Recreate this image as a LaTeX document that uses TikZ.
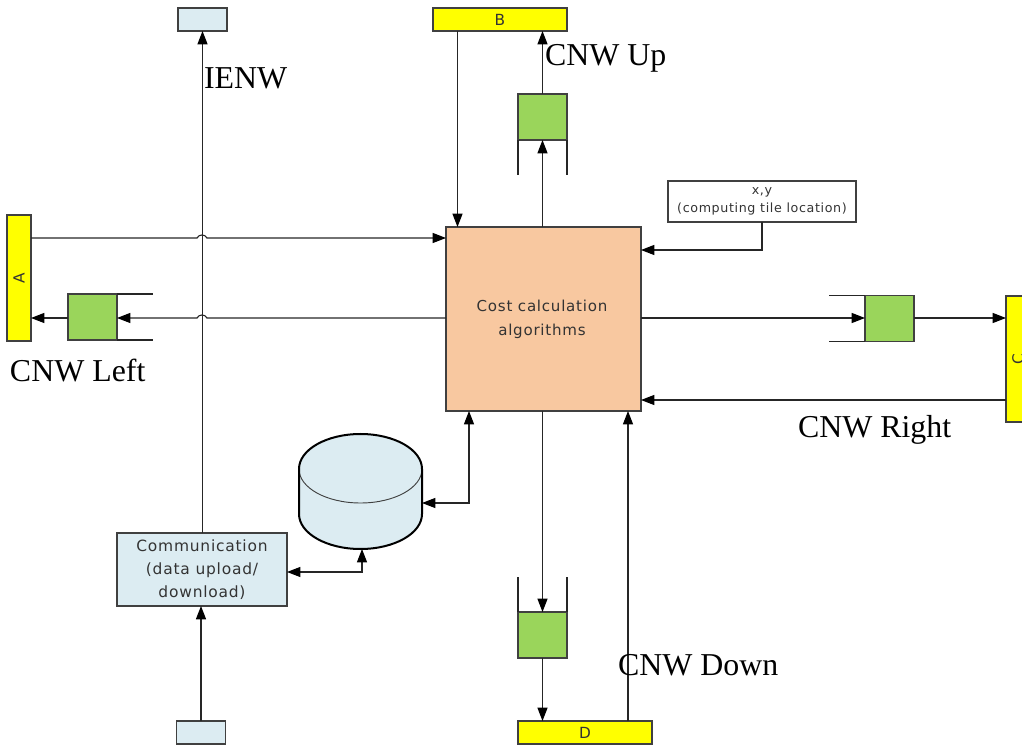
\documentclass[tikz,border=0pt]{standalone}
\usepackage{fontspec}
\setmainfont{Liberation Serif}
\newfontfamily\diagsans[LetterSpace=5]{DejaVu Sans}
\usetikzlibrary{arrows.meta}
\definecolor{edgegrey}{HTML}{404040}
\definecolor{portyellow}{HTML}{FFFF00}
\definecolor{bufgreen}{HTML}{9AD55B}
\definecolor{paleblue}{HTML}{DCECF2}
\definecolor{coreorange}{HTML}{F8C8A0}
\tikzset{
  box/.style={draw=edgegrey,line width=1pt,inner sep=0pt,outer sep=0pt,font=\diagsans\fontsize{11}{13}\selectfont,align=center,text=black!80},
  port/.style={box,fill=portyellow,font=\diagsans\fontsize{11.5}{13}\selectfont},
  buffer/.style={box,fill=bufgreen,minimum width=36.75pt,minimum height=34.5pt},
  pale/.style={box,fill=paleblue},
  wire/.style={draw=black!85,line width=0.85pt},
  arrowwire/.style={wire,-{Triangle[length=10pt,width=7.5pt,color=black]}},
  twowire/.style={wire,{Triangle[length=10pt,width=7.5pt,color=black]}-{Triangle[length=10pt,width=7.5pt,color=black]}},
  rail/.style={draw=black!85,line width=0.8pt},
  caption/.style={inner sep=0pt,outer sep=0pt,anchor=base west,font=\fontsize{23.9}{28}\selectfont,text=black}
}
\begin{document}
\begin{tikzpicture}[x=0.75pt,y=-0.75pt]
\useasboundingbox (0,0) rectangle (1022,745);
\clip (0,0) rectangle (1022,745);
% nodes
\node[box,fill=coreorange,minimum width=146.25pt,minimum height=138pt] (cost) at (543.5,319) {};
\node[box,draw=none,font=\diagsans\fontsize{11.3}{18}\selectfont] (costtext) at (542,319) {Cost calculation\\algorithms};
\node[port,rotate=90,minimum width=94.5pt,minimum height=18pt] (A) at (19,278) {A};
\node[port,minimum width=100.5pt,minimum height=17.25pt] (B) at (500,19.5) {B};
\node[port,rotate=90,minimum width=94.5pt,minimum height=18pt] (C) at (1018,359) {C};
\node[port,minimum width=100.5pt,minimum height=17.25pt] (D) at (585,732.5) {D};
\node[pale,minimum width=36.75pt,minimum height=17.25pt] (ietop) at (202.5,19.5) {};
\node[pale,minimum width=36.75pt,minimum height=17.25pt] (iebot) at (201,732.5) {};
\node[pale,minimum width=127.5pt,minimum height=54.75pt,font=\diagsans\fontsize{11.6}{17}\selectfont] (comm) at (202,569.5) {Communication\\(data upload/\\download)};
\node[box,fill=white,minimum width=141pt,minimum height=30.75pt,font=\diagsans\fontsize{9.5}{13.5}\selectfont] (xy) at (762,201.5) {x,y\\(computing tile location)};
\node[buffer] (gleft) at (92.5,317) {};
\node[buffer] (gup) at (542.5,117) {};
\node[buffer] (gright) at (889.5,318.5) {};
\node[buffer] (gdown) at (542.5,635) {};
% open buffer rails
\draw[rail] (gleft.north east) -- ++(36,0);
\draw[rail] (gleft.south east) -- ++(36,0);
\draw[rail] (gup.south west) -- ++(0,35);
\draw[rail] (gup.south east) -- ++(0,35);
\draw[rail] (gright.north west) -- ++(-36,0);
\draw[rail] (gright.south west) -- ++(-36,0);
\draw[rail] (gdown.north west) -- ++(0,-35);
\draw[rail] (gdown.north east) -- ++(0,-35);
% storage
\node[inner sep=0pt,outer sep=0pt,minimum width=92.25pt,minimum height=86.25pt] (db) at (360.5,491.5) {};
\fill[paleblue] (299,469) arc[start angle=180,end angle=360,x radius=61.5,y radius=35] -- (422,514) arc[start angle=0,end angle=180,x radius=61.5,y radius=35] -- cycle;
\draw[edgegrey,line width=0.7pt] (299,469) arc[start angle=180,end angle=0,x radius=61.5,y radius=34];
\draw[black,line width=1.5pt] (299,469) arc[start angle=180,end angle=360,x radius=61.5,y radius=35] -- (422,514) arc[start angle=0,end angle=180,x radius=61.5,y radius=35] -- cycle;
% IENW vertical
\draw[arrowwire] (comm.north -| ietop.south) -- (ietop.south);
\draw[arrowwire,line width=1.1pt] (iebot.north) -- (comm.south -| iebot.north);
% connections with hops
\draw[arrowwire] (A.south |- 0,238) -- (197,238) .. controls (199,234) and (205,234) .. (207,238) -- (cost.west |- 0,238);
\draw[arrowwire] (cost.west |- 0,318) -- (207,318) .. controls (205,314) and (199,314) .. (197,318) -- (gleft.east |- 0,318);
\draw[arrowwire] (gleft.west |- 0,318) -- (A.south |- 0,318);
\draw[arrowwire] (B.south -| 457.5,0) -- (cost.north -| 457.5,0);
\draw[arrowwire] (cost.north -| gup.south) -- (gup.south);
\draw[arrowwire] (gup.north) -- (B.south -| gup.north);
\draw[arrowwire] (xy.south) -- (xy.south |- 0,250) -- (cost.east |- 0,250);
\draw[arrowwire] (cost.east |- 0,318) -- (gright.west |- 0,318);
\draw[arrowwire] (gright.east |- 0,318) -- (C.north |- 0,318);
\draw[arrowwire] (C.north |- 0,400) -- (cost.east |- 0,400);
\draw[arrowwire] (cost.south -| gdown.north) -- (gdown.north);
\draw[arrowwire] (gdown.south) -- (D.north -| gdown.south);
\draw[arrowwire] (D.north -| 628,0) -- (cost.south -| 628,0);
\draw[twowire] (db.east |- 0,503) -- (469,503) -- (cost.south -| 469,0);
\draw[twowire] (comm.east |- 0,572) -- (362,572) -- (db.south -| 362,0);
% captions
\node[caption] (l1) at (204,89) {IENW};
\node[caption] (l2) at (545,66) {CNW Up};
\node[caption] (l3) at (10,382) {CNW Left};
\node[caption] (l4) at (798,438) {CNW Right};
\node[caption] (l5) at (618,675) {CNW Down};
\end{tikzpicture}
\end{document}
